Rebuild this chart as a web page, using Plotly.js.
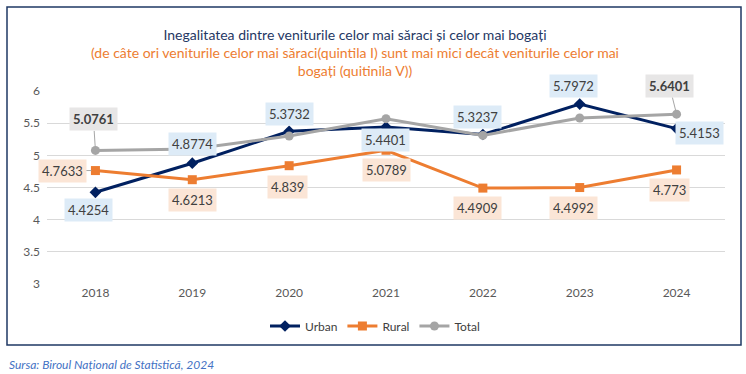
<!DOCTYPE html>
<html>
<head>
<meta charset="utf-8">
<script src="https://cdn.plot.ly/plotly-3.0.1.min.js"></script>
<style>html,body{margin:0;padding:0;background:#fff;}#chart{width:746px;height:374px;}</style>
</head>
<body>
<div id="chart"></div>
<script>
const years = ['2018','2019','2020','2021','2022','2023','2024'];
const urban = [4.4254, 4.8774, 5.3732, 5.4401, 5.3237, 5.7972, 5.4153];
const rural = [4.7633, 4.6213, 4.839, 5.0789, 4.4909, 4.4992, 4.773];
const total = [5.0761, 5.10, 5.30, 5.57, 5.31, 5.58, 5.6401];
const yTicks = [3, 3.5, 4, 4.5, 5, 5.5, 6];
const yTickText = ['3', '3.5', '4', '4.5', '5', '5.5', '6'];
const titleMain = 'Inegalitatea dintre veniturile celor mai săraci și celor mai bogați';
const titleSub1 = '(de câte ori veniturile celor mai săraci(quintila I) sunt mai mici decât veniturile celor mai';
const titleSub2 = 'bogați (quitinila V))';
const sourceText = 'Sursa: Biroul Național de Statistică, 2024';

const FONT = 'Lato, sans-serif';
const cU = '#002060', cR = '#ED7D31', cT = '#A5A5A5';
const bgU = '#DDEBF7', bgR = '#FBE5D6', bgT = '#E7E6E6';

const offU = [[-7,-18],[0,19],[0,17],[-1,-13],[-5,18],[-6,18],[23,-4]];
const offR = [[0,0],[0,-20],[-2,-21],[0,-20],[-5,-20],[-6,-20],[-7,-20]];

const traces = [
  {x: years, y: urban, name: 'Urban', type: 'scatter', mode: 'lines+markers',
   line: {color: cU, width: 3}, marker: {symbol: 'diamond', size: 9, color: cU}},
  {x: years, y: rural, name: 'Rural', type: 'scatter', mode: 'lines+markers',
   line: {color: cR, width: 3}, marker: {symbol: 'square', size: 9, color: cR}},
  {x: years, y: total, name: 'Total', type: 'scatter', mode: 'lines+markers',
   line: {color: cT, width: 3}, marker: {symbol: 'circle', size: 9, color: cT}}
];

const ann = [];
function lab(i, y, txt, bg, xs, ys, bold) {
  ann.push({x: i, y: y, xref: 'x', yref: 'y', text: bold ? '<b>' + txt + '</b>' : txt,
    showarrow: false, xshift: xs, yshift: ys, bgcolor: bg, borderpad: 3,
    font: {family: FONT, size: 13, color: '#404040'}});
}
function leader(i, y, txt, bg, ax, ay, bold) {
  ann.push({x: i, y: y, xref: 'x', yref: 'y', text: bold ? '<b>' + txt + '</b>' : txt,
    showarrow: true, arrowhead: 0, arrowwidth: 1, arrowcolor: '#A6A6A6', ax: ax, ay: ay,
    standoff: 4, bgcolor: bg, borderpad: 3,
    font: {family: FONT, size: 13, color: '#404040'}});
}
years.forEach((yr, i) => {
  lab(i, urban[i], String(urban[i]), bgU, offU[i][0], offU[i][1], false);
  if (i === 0) leader(i, rural[i], String(rural[i]), bgR, -33, 0, false);
  else lab(i, rural[i], String(rural[i]), bgR, offR[i][0], offR[i][1], false);
});
leader(0, total[0], String(total[0]), bgT, -2, -31, true);
leader(6, total[6], String(total[6]), bgT, -7, -28, true);

ann.push({xref: 'paper', yref: 'paper', x: (7 - 47) / 678, y: (284 - 364) / 193,
  xanchor: 'left', yanchor: 'middle', showarrow: false,
  text: '<i>' + sourceText + '</i>', font: {family: FONT, size: 12, color: '#4472C4'}});

const layout = {
  width: 746, height: 374,
  margin: {l: 47, r: 21, t: 91, b: 90},
  paper_bgcolor: '#fff', plot_bgcolor: '#fff',
  font: {family: FONT, color: '#595959', size: 12},
  title: {
    text: '<span style="color:#1F3864">' + titleMain + '</span><br>' +
          '<span style="color:#ED7D31">' + titleSub1 + '</span><br>' +
          '<span style="color:#ED7D31">' + titleSub2 + '</span>',
    x: 355 / 746, xanchor: 'center', xref: 'container',
    y: 1 - 40 / 374, yanchor: 'top', yref: 'container',
    font: {family: FONT, size: 14}
  },
  xaxis: {type: 'category', showgrid: false, zeroline: false, showline: false,
    ticks: '', tickfont: {size: 12, color: '#595959'}, range: [-0.5, 6.5]},
  yaxis: {range: [3, 6], tickvals: yTicks, ticktext: yTickText, showgrid: true,
    gridcolor: '#D9D9D9', gridwidth: 1, zeroline: false, showline: false, ticks: '',
    tickfont: {size: 12, color: '#595959'}, ticklabelstandoff: 6},
  legend: {orientation: 'h', x: (375 - 47) / 678, xanchor: 'center',
    y: (284 - 326) / 193, yanchor: 'middle', font: {size: 12, color: '#404040'}},
  showlegend: true,
  annotations: ann,
  shapes: [{type: 'rect', xref: 'paper', yref: 'paper',
    x0: (7 - 47) / 678, x1: (741 - 47) / 678, y0: (284 - 345) / 193, y1: (284 - 7) / 193,
    line: {color: '#1F3864', width: 1.5}, fillcolor: 'rgba(0,0,0,0)', layer: 'below'}]
};

Plotly.newPlot('chart', traces, layout, {displayModeBar: false, staticPlot: true});
</script>
</body>
</html>
